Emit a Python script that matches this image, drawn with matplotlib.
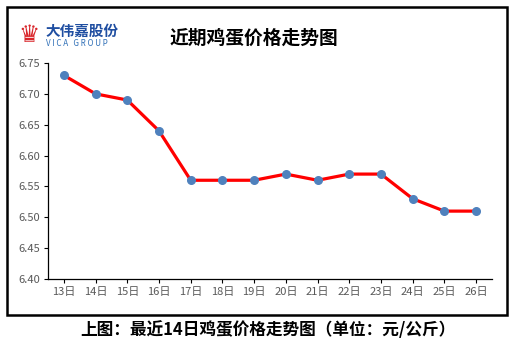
import matplotlib.pyplot as plt
from matplotlib.patches import Rectangle

plt.rcParams['font.family'] = ['Noto Sans CJK SC', 'DejaVu Sans']

days = ["13日", "14日", "15日", "16日", "17日", "18日", "19日",
        "20日", "21日", "22日", "23日", "24日", "25日", "26日"]
prices = [6.73, 6.70, 6.69, 6.64, 6.56, 6.56, 6.56,
          6.57, 6.56, 6.57, 6.57, 6.53, 6.51, 6.51]
yticks = [6.40, 6.45, 6.50, 6.55, 6.60, 6.65, 6.70, 6.75]

TICK = "#595959"
LINE = "#ff0000"
DOT = "#4f81bd"

fig = plt.figure(figsize=(5.13, 3.47), dpi=100, facecolor="white")

# outer frame
fig.patches.append(Rectangle((7 / 513, 1 - 315 / 347), 500 / 513, 308 / 347,
                             transform=fig.transFigure, fill=False,
                             edgecolor="black", linewidth=1.8))

ax = fig.add_axes([48 / 513, 1 - 279 / 347, 444 / 513, 216 / 347])
x = range(len(days))
ax.plot(x, prices, color=LINE, linewidth=2.3, zorder=2)
ax.scatter(x, prices, s=30, color=DOT, zorder=3)

ax.set_xlim(-0.5, len(days) - 0.5)
ax.set_ylim(6.40, 6.75)
ax.set_yticks(yticks)
ax.set_yticklabels([f"{v:.2f}" for v in yticks])
ax.set_xticks(list(x))
ax.set_xticklabels(days)
for s in ["top", "right"]:
    ax.spines[s].set_visible(False)
for s in ["left", "bottom"]:
    ax.spines[s].set_color("black")
    ax.spines[s].set_linewidth(0.9)
ax.tick_params(colors=TICK, labelsize=8, length=3, width=0.8, pad=3)
ax.tick_params(axis="x", color="black")
ax.tick_params(axis="y", color="black")

# title
fig.text(254 / 513, 1 - 38 / 347, "近期鸡蛋价格走势图", ha="center", va="center",
         fontsize=13.5, fontweight="bold", color="black")

# logo
fig.text(29 / 513, 1 - 35 / 347, "♛", ha="center", va="center",
         fontsize=17, color="#d9262b", family="DejaVu Sans")
fig.text(45 / 513, 1 - 31 / 347, "大伟嘉股份", ha="left", va="center",
         fontsize=10.5, fontweight="bold", color="#1f4ea1")
fig.text(46 / 513, 1 - 43 / 347, "V I C A   G R O U P", ha="left", va="center",
         fontsize=5.8, color="#2f6fb7")

# caption
fig.text(268 / 513, 1 - 330 / 347, "上图：最近14日鸡蛋价格走势图（单位：元/公斤）",
         ha="center", va="center", fontsize=12, fontweight="bold", color="black")

fig.savefig("out.png", dpi=100, facecolor="white")
